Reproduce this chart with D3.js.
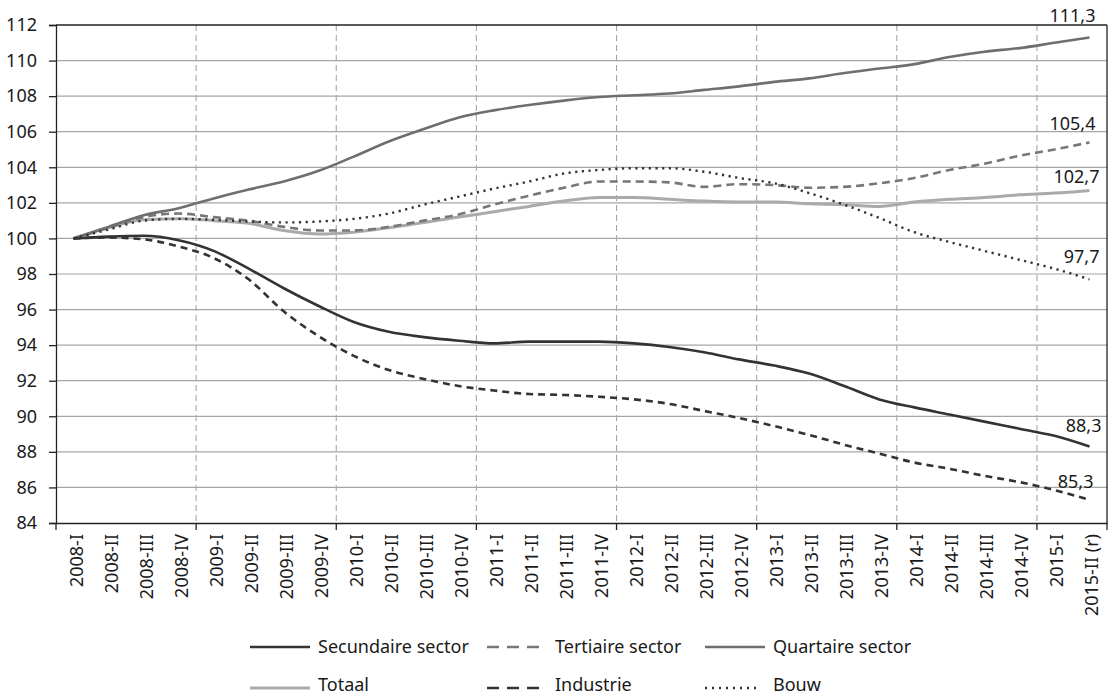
<!DOCTYPE html>
<html>
<head>
<meta charset="utf-8">
<script src="https://cdn.jsdelivr.net/npm/d3@7"></script>
<style>
  html, body { margin: 0; padding: 0; background: #fff; }
  svg { display: block; }
  text { font-family: "Noto Sans", sans-serif; fill: #1a1a1a; }
</style>
</head>
<body>
<svg id="chart" width="1119" height="697"></svg>
<script>
// ---------- DATA ----------
const categories = [
  "2008-I","2008-II","2008-III","2008-IV",
  "2009-I","2009-II","2009-III","2009-IV",
  "2010-I","2010-II","2010-III","2010-IV",
  "2011-I","2011-II","2011-III","2011-IV",
  "2012-I","2012-II","2012-III","2012-IV",
  "2013-I","2013-II","2013-III","2013-IV",
  "2014-I","2014-II","2014-III","2014-IV",
  "2015-I","2015-II (r)"
];
const yTicks = [84, 86, 88, 90, 92, 94, 96, 98, 100, 102, 104, 106, 108, 110, 112];

const secundaire = [100, 100.1, 100.15, 99.9, 99.3, 98.3, 97.2, 96.2, 95.3, 94.75, 94.45, 94.25, 94.1, 94.2, 94.2, 94.2, 94.1, 93.9, 93.6, 93.2, 92.85, 92.4, 91.7, 90.95, 90.5, 90.1, 89.7, 89.3, 88.9, 88.3];
const tertiaire  = [100, 100.6, 101.2, 101.4, 101.2, 101.0, 100.65, 100.45, 100.45, 100.65, 101.0, 101.35, 101.9, 102.4, 102.85, 103.2, 103.2, 103.15, 102.9, 103.05, 103.0, 102.85, 102.9, 103.1, 103.4, 103.85, 104.2, 104.65, 105.0, 105.4];
const quartaire  = [100, 100.65, 101.3, 101.7, 102.25, 102.75, 103.2, 103.8, 104.6, 105.45, 106.15, 106.8, 107.2, 107.5, 107.75, 107.95, 108.05, 108.15, 108.35, 108.55, 108.8, 109.0, 109.3, 109.55, 109.8, 110.2, 110.5, 110.7, 111.0, 111.3];
const totaal     = [100, 100.6, 101.05, 101.1, 101.0, 100.85, 100.45, 100.25, 100.35, 100.6, 100.9, 101.2, 101.5, 101.8, 102.1, 102.3, 102.3, 102.2, 102.1, 102.05, 102.05, 101.95, 101.9, 101.8, 102.05, 102.2, 102.3, 102.45, 102.55, 102.7];
const industrie  = [100, 100.05, 99.95, 99.55, 98.9, 97.7, 95.9, 94.5, 93.4, 92.6, 92.1, 91.7, 91.45, 91.25, 91.2, 91.1, 90.95, 90.7, 90.3, 89.9, 89.45, 88.95, 88.4, 87.9, 87.4, 87.05, 86.65, 86.3, 85.85, 85.3];
const bouw       = [100, 100.5, 101.0, 101.1, 101.05, 100.95, 100.9, 100.95, 101.1, 101.4, 101.9, 102.35, 102.8, 103.2, 103.65, 103.85, 103.95, 103.95, 103.75, 103.4, 103.1, 102.55, 101.9, 101.15, 100.35, 99.8, 99.3, 98.8, 98.3, 97.7];

const seriesNames = ["Secundaire sector", "Tertiaire sector", "Quartaire sector", "Totaal", "Industrie", "Bouw"];
const seriesValues = [secundaire, tertiaire, quartaire, totaal, industrie, bouw];

// ---------- STYLES ----------
const FS = "18px";
const styles = [
  { color: "#333333", width: 2.6, dash: null,      legendDash: null,   legendLen: 60 },
  { color: "#777777", width: 2.6, dash: "8,5",     legendDash: "12,8", legendLen: 52 },
  { color: "#6e6e6e", width: 2.6, dash: null,      legendDash: null,   legendLen: 60 },
  { color: "#aaaaaa", width: 3,   dash: null,      legendDash: null,   legendLen: 60 },
  { color: "#333333", width: 2.6, dash: "7,5",     legendDash: "12,8", legendLen: 52 },
  { color: "#333333", width: 2.4, dash: "2.2,4.5", legendDash: "2,5",  legendLen: 55 }
];
// end label offsets relative to last point [dx, dy]
const labelOffsets = [[12, -15], [6, -12], [6, -15], [10, -7], [4, -12], [10, -16]];

// ---------- LAYOUT ----------
const svg = d3.select("#chart");
const L = 56, R = 1107, T = 25, B = 523;

const x = d3.scaleBand().domain(categories).range([L, R]).paddingInner(0).paddingOuter(0);
const cx = d => x(d) + x.bandwidth() / 2;
const y = d3.scaleLinear().domain([84, 112]).range([B, T]);

// horizontal gridlines
svg.append("g").selectAll("line")
  .data(yTicks.filter(t => t !== 84 && t !== 112))
  .join("line")
  .attr("x1", L).attr("x2", R)
  .attr("y1", d => y(d)).attr("y2", d => y(d))
  .attr("stroke", "#a6a6a6").attr("stroke-width", 1.2);

// year boundaries
const yearStarts = categories.filter((c, i) => i % 4 === 0 && i > 0);
svg.append("g").selectAll("line")
  .data(yearStarts)
  .join("line")
  .attr("x1", d => x(d)).attr("x2", d => x(d))
  .attr("y1", T).attr("y2", B)
  .attr("stroke", "#a6a6a6").attr("stroke-width", 1.1)
  .attr("stroke-dasharray", "6,4");

// frame: top and right
svg.append("line").attr("x1", L).attr("x2", R).attr("y1", T).attr("y2", T)
  .attr("stroke", "#222").attr("stroke-width", 1.3);
svg.append("line").attr("x1", R).attr("x2", R).attr("y1", T).attr("y2", B)
  .attr("stroke", "#222").attr("stroke-width", 1.3);

// y axis
const yAxis = d3.axisLeft(y).tickValues(yTicks).tickSize(7).tickPadding(12).tickFormat(d3.format("d"));
const gy = svg.append("g").attr("transform", `translate(${L},0)`).call(yAxis);
gy.select(".domain").attr("stroke", "#222").attr("stroke-width", 1.3);
gy.selectAll(".tick line").attr("stroke", "#222").attr("stroke-width", 1.3);
gy.selectAll(".tick text").style("font-size", FS).style("font-family", "'Noto Sans', sans-serif").attr("fill", "#1a1a1a");

// x axis
const xAxis = d3.axisBottom(x).tickSize(0).tickPadding(0);
const gx = svg.append("g").attr("transform", `translate(0,${B})`).call(xAxis);
gx.select(".domain").attr("stroke", "#222").attr("stroke-width", 1.3);
gx.selectAll(".tick text")
  .style("font-size", FS).style("font-family", "'Noto Sans', sans-serif").attr("fill", "#1a1a1a")
  .attr("text-anchor", "end")
  .attr("transform", "translate(0,11) rotate(-90)")
  .attr("x", 0).attr("y", 0).attr("dy", "0.5em");
// year-boundary ticks
const tickXs = [L].concat(yearStarts.map(d => x(d))).concat([R]);
gx.append("g").selectAll("line").data(tickXs).join("line")
  .attr("x1", d => d).attr("x2", d => d).attr("y1", 0).attr("y2", 7)
  .attr("stroke", "#222").attr("stroke-width", 1.3);

// series lines
const line = d3.line().x((d, i) => cx(categories[i])).y(d => y(d)).curve(d3.curveMonotoneX);
const drawOrder = [3, 0, 1, 2, 4, 5];
drawOrder.forEach(si => {
  const s = styles[si];
  svg.append("path")
    .datum(seriesValues[si])
    .attr("d", line)
    .attr("fill", "none")
    .attr("stroke", s.color)
    .attr("stroke-width", s.width)
    .attr("stroke-dasharray", s.dash)
    .attr("stroke-linejoin", "round");
});

// end labels
const fmt = v => d3.format(".1f")(v).replace(".", ",");
seriesValues.forEach((vals, si) => {
  const last = vals[vals.length - 1];
  svg.append("text")
    .attr("x", cx(categories[categories.length - 1]) + labelOffsets[si][0])
    .attr("y", y(last) + labelOffsets[si][1])
    .attr("text-anchor", "end")
    .style("font-size", FS)
    .text(fmt(last));
});

// legend
const colX = [250, 487, 705];
const rowY = [647, 688];
const rowBase = [653, 691];
seriesNames.forEach((name, i) => {
  const col = i % 3, row = Math.floor(i / 3);
  const s = styles[i];
  const lx = colX[col], ly = rowY[row];
  svg.append("line")
    .attr("x1", lx).attr("x2", lx + s.legendLen)
    .attr("y1", ly).attr("y2", ly)
    .attr("stroke", s.color).attr("stroke-width", s.width)
    .attr("stroke-dasharray", s.legendDash);
  svg.append("text")
    .attr("x", lx + 68).attr("y", rowBase[row])
    .style("font-size", FS)
    .text(name);
});
</script>
</body>
</html>
